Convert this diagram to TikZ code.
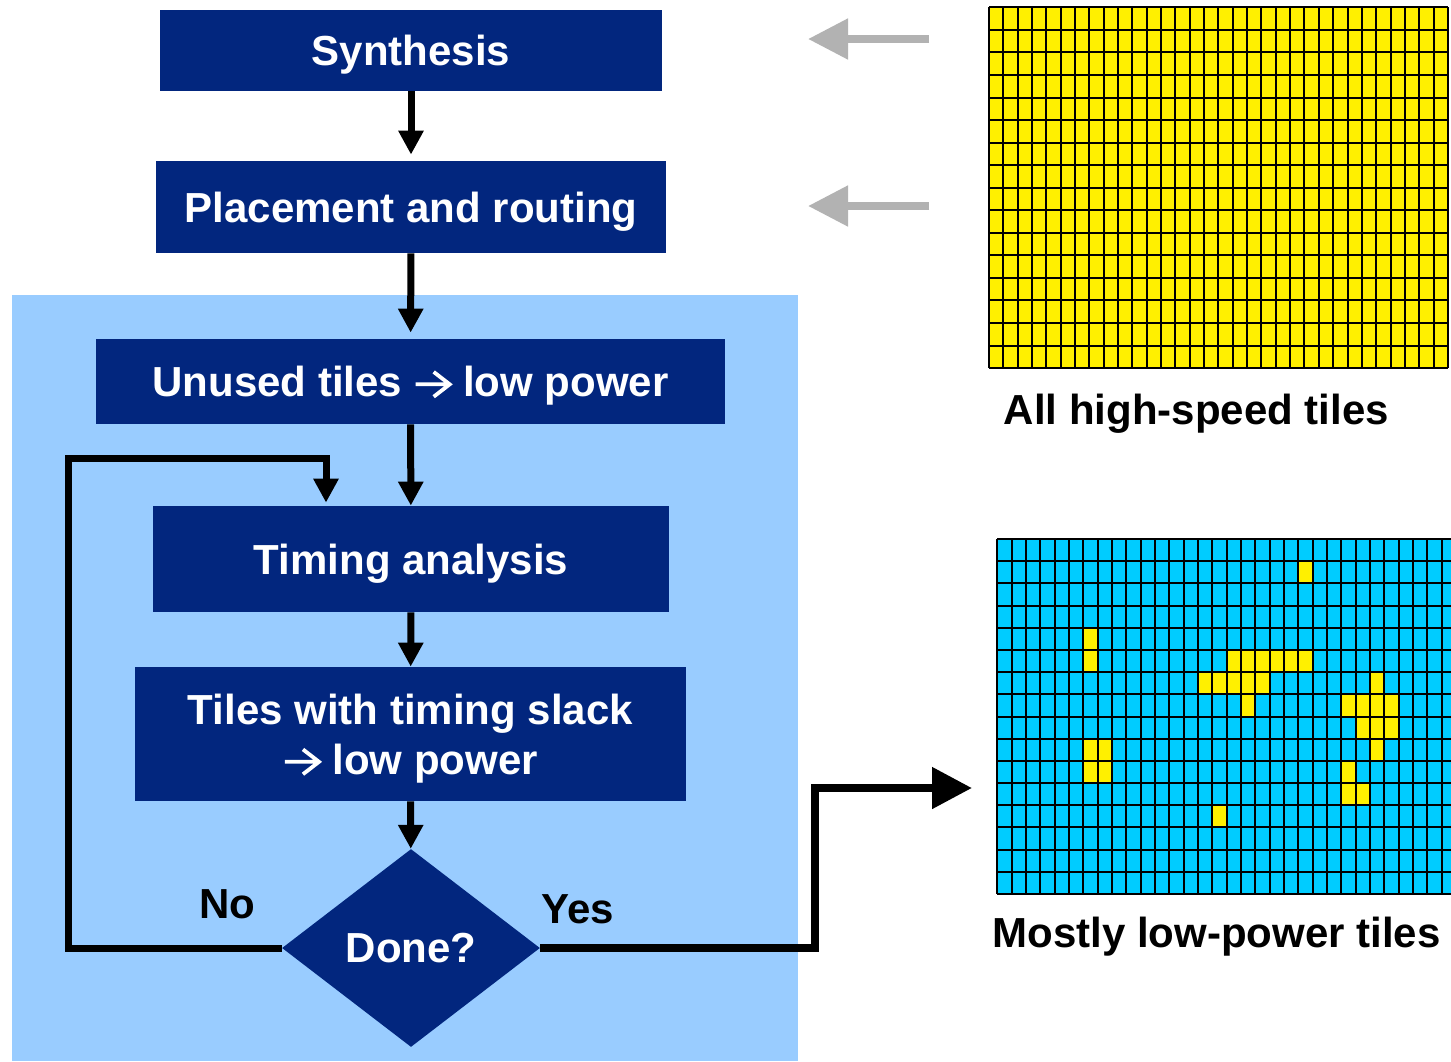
\documentclass[tikz,border=0pt]{standalone}
\usepackage{fontspec}
\setmainfont{Liberation Sans}
\usepackage{tikz}
\usetikzlibrary{shapes.geometric,arrows.meta,positioning}
\definecolor{DeepBlue}{HTML}{02267E}
\definecolor{PanelBlue}{HTML}{99CCFF}
\definecolor{TileYellow}{HTML}{FFF000}
\definecolor{TileCyan}{HTML}{00CCFF}
\definecolor{ArrowGray}{HTML}{B2B2B2}
\newcommand{\flowfont}{\fontsize{21}{25}\selectfont\bfseries}
% arrow sign inside the boxes
\newcommand{\toarrow}{\tikz[baseline=0pt]{\draw[white,line width=1.9pt,line join=miter]
  (0pt,6.2pt) -- (17pt,6.2pt) (9pt,0pt) -- (17pt,6.2pt) -- (9pt,12.4pt);}}

\begin{document}
\begin{tikzpicture}[x=0.5pt,y=-0.5pt,
  box/.style={rectangle,fill=DeepBlue,text=white,font=\flowfont,align=center,
    inner sep=0pt,text depth=0pt},
  arr/.style={-{Triangle[length=12pt,width=12pt]},line width=3.5pt},
  yesarr/.style={-{Triangle[length=20pt,width=20pt]},line width=4pt},
  backarr/.style={-{Triangle[length=20pt,width=19.5pt]},line width=4pt,color=ArrowGray},
  tileline/.style={line width=1pt,color=black},
  lbl/.style={font=\flowfont,anchor=base}]
  \clip (0,0) rectangle (1451,1061);
  \fill[white] (0,0) rectangle (1451,1061);
  % panel behind the power loop
  \fill[PanelBlue] (12,295) rectangle (798,1061);

  \node[box,minimum width=251pt,minimum height=40.5pt] (synth) at (411,50.5) {Synthesis};
  \node[box,minimum width=255pt,minimum height=46pt] (place) at (411,207) {Placement and routing};
  \node[box,minimum width=314.5pt,minimum height=42.5pt] (unused) at (410.5,381.5) {Unused tiles \toarrow{} low power};
  \node[box,minimum width=258pt,minimum height=53pt] (timing) at (411,559) {Timing analysis};
  \node[box,minimum width=275.5pt,minimum height=67pt] (slack) at (410.5,734) {Tiles with timing slack\\\toarrow{} low power};
  \node[diamond,fill=DeepBlue,text=white,font=\flowfont,inner sep=0pt,
    minimum width=129pt,minimum height=99pt] (done) at (411,948) {Done?};

  \draw[arr,shorten >=3pt] (synth) -- (place);
  \draw[arr,shorten >=3pt] (place) -- (unused);
  \draw[arr] (unused) -- (timing);
  \draw[arr] (timing) -- (slack);
  \draw[arr] (slack) -- (done);

  % No: back to timing analysis
  \coordinate (noa) at (68,948);
  \coordinate (nob) at (326,458);
  \draw[arr,shorten >=1.5pt] (done.west) -- (noa) |- (nob) -- (nob |- timing.north);
  \node[lbl] (no) at (227,918) {No};

  % Yes: out to the result
  \coordinate (yesa) at (815,948);
  \coordinate (yesb) at (972,788);
  \draw[yesarr] (done.east) -- (yesa) |- (yesb);
  \node[lbl] (yes) at (578,923) {Yes};

  % gray arrows from the fabric
  \coordinate (ga1) at (929,39);
  \coordinate (gb1) at (808,39);
  \coordinate (ga2) at (929,206);
  \coordinate (gb2) at (808,206);
  \draw[backarr] (ga1) -- (gb1);
  \draw[backarr] (ga2) -- (gb2);

  % all high-speed tiles
  \fill[TileYellow] (989,7.3) rectangle (1447.9,368.1);
  \foreach \i in {0,...,32}
    \draw[tileline] ({989+\i*14.34},7.3) -- ++(0,360.8);
  \foreach \j in {0,...,16}
    \draw[tileline] (989,{7.3+\j*22.55}) -- ++(458.9,0);
  \node[lbl] (fastlbl) at (1196.5,424) {All high-speed tiles};

  % mostly low-power tiles
  \fill[TileCyan] (997.3,539) rectangle (1456,894);
  \foreach \c/\r in {21/1,6/4,6/5,16/5,17/5,18/5,19/5,20/5,21/5,
      14/6,15/6,16/6,17/6,18/6,26/6,17/7,24/7,25/7,26/7,27/7,
      25/8,26/8,27/8,6/9,7/9,26/9,6/10,7/10,24/10,24/11,25/11,15/12}
    \fill[TileYellow] ({997.3+\c*14.33},{539+\r*22.19}) rectangle ++(14.33,22.19);
  \foreach \i in {0,...,32}
    \draw[tileline] ({997.3+\i*14.33},539) -- ++(0,355);
  \foreach \j in {0,...,16}
    \draw[tileline] (997.3,{539+\j*22.19}) -- ++(458.6,0);
  \node[lbl] (lowlbl) at (1216.5,947) {Mostly low-power tiles};
\end{tikzpicture}
\end{document}
